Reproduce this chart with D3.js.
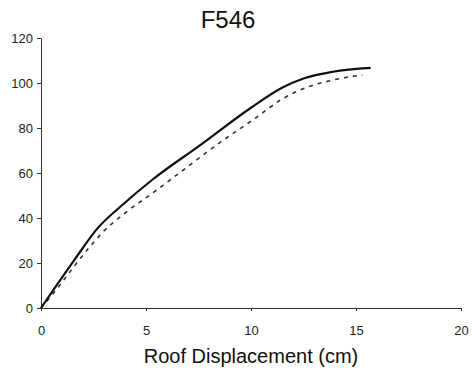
<!DOCTYPE html>
<html>
<head>
<meta charset="utf-8">
<script src="https://cdn.jsdelivr.net/npm/d3@7"></script>
<style>
  body { margin: 0; background: #fff; }
  svg { font-family: "Liberation Sans", Arial, sans-serif; }
  .axis path, .axis line { stroke: #333; }
  .axis text { fill: #222; font-size: 13px; }
</style>
</head>
<body>
<div id="chart"></div>
<script>
        // data
        var solidDisp  = [0, 0.7, 1.6, 2.7, 3.9, 5.3, 7.6, 10, 11.5, 12.5, 13.9, 15.7];
        var solidForce = [0, 9.5, 21.5, 35.5, 46, 57, 72.5, 89, 98, 102, 105, 106.7];
        var dashDisp   = [0, 0.8, 1.6, 2.2, 2.9, 4, 5.3, 8.7, 10.3, 11.4, 12.7, 13.9, 15.3];
        var dashForce  = [0, 9, 18.8, 25.8, 33.3, 42.2, 51, 74.7, 85, 92.4, 98.2, 101.3, 103.6];
        var xTicks = [0, 5, 10, 15, 20];
        var yTicks = [0, 20, 40, 60, 80, 100, 120];

        //set the dimensions and margins of the graph
        var margin = {top: 38, right: 11, bottom: 66, left: 41},
            width = 472 - margin.left - margin.right,
            height = 374 - margin.top - margin.bottom;

        var x = d3.scaleLinear().domain([0, 20]).range([0, width]);
        var y = d3.scaleLinear().domain([0, 120]).range([height, 0]);

        var root = d3.select("#chart").append("svg")
            .attr("width", 472)
            .attr("height", 374);

        var svg = root.append("g")
            .attr("transform", "translate(" + margin.left + "," + margin.top + ")");

        // axes
        svg.append("g")
            .attr("class", "axis")
            .attr("transform", "translate(0," + height + ")")
            .call(d3.axisBottom(x).tickValues(xTicks).tickSize(3).tickPadding(15).tickSizeOuter(0));

        svg.append("g")
            .attr("class", "axis")
            .call(d3.axisLeft(y).tickValues(yTicks).tickSize(4).tickPadding(4).tickSizeOuter(0));

        var line = d3.line()
            .x(function(d) { return x(d[0]); })
            .y(function(d) { return y(d[1]); })
            .curve(d3.curveMonotoneX);

        var solid = d3.zip(solidDisp, solidForce);
        var dashed = d3.zip(dashDisp, dashForce);

        svg.append("path")
            .datum(dashed)
            .attr("fill", "none")
            .attr("stroke", "#333")
            .attr("stroke-width", 1.6)
            .attr("stroke-dasharray", "4,5")
            .attr("d", line);

        svg.append("path")
            .datum(solid)
            .attr("fill", "none")
            .attr("stroke", "#111")
            .attr("stroke-width", 2.2)
            .attr("d", line);

        // titles
        root.append("text")
            .attr("x", 228)
            .attr("y", 28)
            .attr("text-anchor", "middle")
            .style("font-size", "24px")
            .attr("fill", "#111")
            .text("F546");

        root.append("text")
            .attr("x", 251)
            .attr("y", 363)
            .attr("text-anchor", "middle")
            .style("font-size", "20px")
            .attr("fill", "#111")
            .text("Roof Displacement (cm)");
</script>
</body>
</html>
